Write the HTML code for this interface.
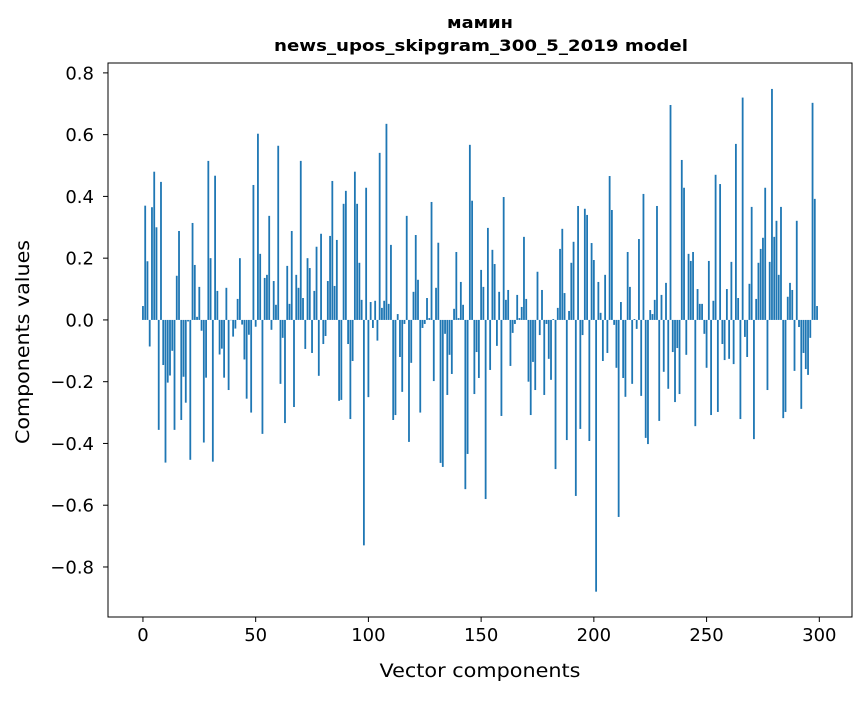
<!DOCTYPE html>
<html><head><meta charset="utf-8"><style>
body{margin:0;background:#fff;}
svg text{font-family:"DejaVu Sans","Liberation Sans",sans-serif;fill:#000;}
</style></head><body>
<svg id="chart" width="867" height="696" xmlns="http://www.w3.org/2000/svg">
<text x="480" y="28" text-anchor="middle" font-size="16" font-weight="bold" textLength="66" lengthAdjust="spacingAndGlyphs">мамин</text>
<text x="481" y="51" text-anchor="middle" font-size="16" font-weight="bold" textLength="414" lengthAdjust="spacingAndGlyphs">news_upos_skipgram_300_5_2019 model</text>
<g id="bars"></g>
<g id="axes"></g>
<text x="480" y="677" text-anchor="middle" font-size="19" textLength="201" lengthAdjust="spacingAndGlyphs">Vector components</text>
<text transform="translate(29,342) rotate(-90)" text-anchor="middle" font-size="19" textLength="204" lengthAdjust="spacingAndGlyphs">Components values</text>
</svg>
<script>
const values = [0.045,0.37,0.19,-0.086,0.365,0.48,0.30,-0.356,0.447,-0.146,
-0.462,-0.203,-0.18,-0.10,-0.356,0.143,0.288,-0.324,-0.184,-0.268,
-0.005,-0.453,0.314,0.178,0.01,0.107,-0.035,-0.397,-0.187,0.515,
0.20,-0.459,0.467,0.094,-0.112,-0.093,-0.187,0.104,-0.227,0.0,
-0.054,-0.028,0.068,0.20,-0.015,-0.128,-0.255,-0.048,-0.30,0.437,
-0.022,0.603,0.214,-0.369,0.136,0.146,0.337,-0.032,0.126,0.049,
0.564,-0.207,-0.058,-0.334,0.175,0.052,0.288,-0.282,0.146,0.104,
0.515,0.071,-0.094,0.20,0.168,-0.107,0.094,0.237,-0.181,0.279,
-0.078,-0.052,0.126,0.272,0.45,0.11,0.259,-0.262,-0.259,0.376,
0.418,-0.078,-0.321,-0.133,0.48,0.376,0.185,0.065,-0.73,0.428,
-0.25,0.058,-0.026,0.062,-0.067,0.541,0.039,0.062,0.635,0.052,
0.243,-0.324,-0.308,0.019,-0.12,-0.233,-0.013,0.337,-0.395,-0.139,
0.091,0.275,0.13,-0.30,-0.026,-0.013,0.071,0.006,0.382,-0.198,
0.104,0.25,-0.463,-0.476,-0.045,-0.243,-0.113,-0.175,0.036,0.22,
0.006,0.123,0.049,-0.548,-0.434,0.567,0.386,-0.24,-0.104,-0.188,
0.162,0.107,-0.58,0.298,-0.162,0.227,0.181,-0.084,0.091,-0.311,
0.398,0.065,0.097,-0.149,-0.042,-0.013,0.081,0.006,0.042,0.269,
0.068,-0.20,-0.308,-0.136,-0.227,0.156,-0.049,0.097,-0.243,-0.013,
-0.126,-0.194,0.003,-0.483,0.039,0.23,0.295,0.087,-0.389,0.029,
0.185,0.253,-0.57,0.369,-0.353,-0.049,0.36,0.34,-0.392,0.249,
0.194,-0.88,0.123,0.023,-0.133,0.146,-0.107,0.466,0.356,-0.016,
-0.155,-0.638,0.058,-0.188,-0.249,0.22,0.107,-0.207,0.003,-0.029,
0.262,-0.246,0.408,-0.382,-0.402,0.032,0.019,0.065,0.369,-0.327,
0.081,-0.168,0.12,-0.223,0.696,-0.104,-0.266,-0.091,-0.24,0.518,
0.428,-0.113,0.214,0.191,0.22,-0.344,0.10,0.052,0.052,-0.045,
-0.155,0.191,-0.308,0.062,0.47,-0.298,0.44,-0.078,-0.13,0.10,
-0.126,0.188,-0.143,0.57,0.071,-0.321,0.72,-0.055,-0.12,0.117,
0.366,-0.386,0.068,0.185,0.23,0.266,0.428,-0.227,0.188,0.748,
0.269,0.321,0.146,0.366,-0.318,-0.298,0.075,0.12,0.097,-0.165,
0.321,-0.023,-0.288,-0.107,-0.159,-0.178,-0.058,0.703,0.392,0.045];
const xTicks = [0,50,100,150,200,250,300];
const yTicks = [-0.8,-0.6,-0.4,-0.2,0.0,0.2,0.4,0.6,0.8];
const yTickLabels = ["\u22120.8","\u22120.6","\u22120.4","\u22120.2","0.0","0.2","0.4","0.6","0.8"];

const L=108,R=852,T=63,B=617;
const xMin=-15.5,xMax=314.5,yMin=-0.962,yMax=0.832;
const xs=v=>L+(v-xMin)/(xMax-xMin)*(R-L);
const ys=v=>B-(v-yMin)/(yMax-yMin)*(B-T);
const NS="http://www.w3.org/2000/svg";
const bars=document.getElementById('bars');
const bw=(xs(1)-xs(0))*0.8;
values.forEach((v,i)=>{
  const r=document.createElementNS(NS,'rect');
  
  
  const y0=ys(0),y1=ys(v);
  r.setAttribute('x',xs(i)-bw/2);
  r.setAttribute('width',bw);
  r.setAttribute('y',Math.min(y0,y1));
  r.setAttribute('height',Math.max(Math.abs(y1-y0),0.3));
  r.setAttribute('fill','#1f77b4');
  bars.appendChild(r);
});
const ax=document.getElementById('axes');
const frame=document.createElementNS(NS,'rect');


frame.setAttribute('x',L);frame.setAttribute('y',T);
frame.setAttribute('width',R-L);frame.setAttribute('height',B-T);
frame.setAttribute('fill','none');frame.setAttribute('stroke','#000');frame.setAttribute('stroke-width','1');
ax.appendChild(frame);
xTicks.forEach(t=>{
  const l=document.createElementNS(NS,'line');
  
  
  l.setAttribute('x1',xs(t));l.setAttribute('x2',xs(t));l.setAttribute('y1',B);l.setAttribute('y2',B+5);
  l.setAttribute('stroke','#000');ax.appendChild(l);
  const tx=document.createElementNS(NS,'text');
  
  
  tx.setAttribute('x',xs(t));tx.setAttribute('y',B+24);tx.setAttribute('text-anchor','middle');tx.setAttribute('font-size','18');
  tx.textContent=t;ax.appendChild(tx);
});
yTicks.forEach((t,i)=>{
  const l=document.createElementNS(NS,'line');
  
  
  l.setAttribute('x1',L-5);l.setAttribute('x2',L);l.setAttribute('y1',ys(t));l.setAttribute('y2',ys(t));
  l.setAttribute('stroke','#000');ax.appendChild(l);
  const tx=document.createElementNS(NS,'text');
  
  
  tx.setAttribute('x',L-14);tx.setAttribute('y',ys(t)+6.5);tx.setAttribute('text-anchor','end');tx.setAttribute('font-size','18');
  tx.textContent=yTickLabels[i];ax.appendChild(tx);
});
</script>
</body></html>
